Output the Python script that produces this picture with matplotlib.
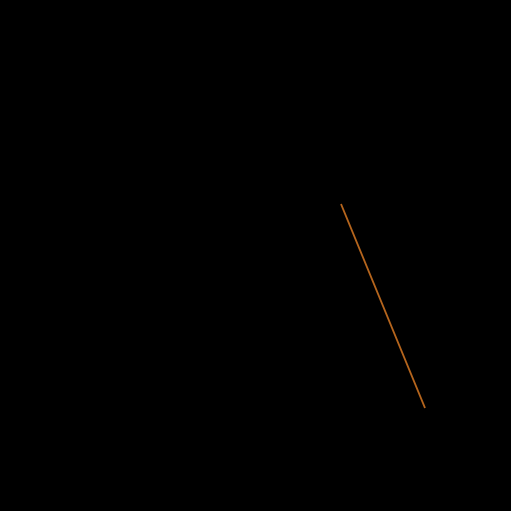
import matplotlib
matplotlib.use("Agg")
import matplotlib.pyplot as plt

# Data: a single segment series (x, y values in the chart's own units)
x_values = [341, 425]
y_values = [204, 408]

fig = plt.figure(figsize=(5.11, 5.11), dpi=100, facecolor="black")
ax = fig.add_axes([0, 0, 1, 1])
ax.set_facecolor("black")
ax.set_xlim(0, 511)
ax.set_ylim(511, 0)
ax.axis("off")

ax.plot(x_values, y_values, color="#b5651d", linewidth=1.3, solid_capstyle="butt")

fig.savefig("out.png", dpi=100, facecolor="black")
